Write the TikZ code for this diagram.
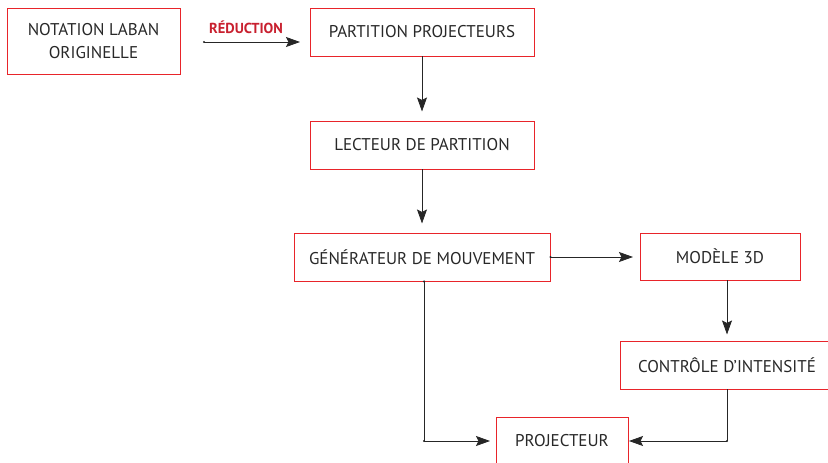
\documentclass[tikz,border=0pt]{standalone}
\usepackage{fontspec}
\setmainfont{PT Sans}
\usetikzlibrary{arrows.meta}
\definecolor{boxred}{RGB}{232,36,42}
\definecolor{labred}{RGB}{200,32,47}
\definecolor{txt}{RGB}{40,40,40}
\begin{document}
\begin{tikzpicture}[x=1pt,y=-1pt,
  box/.style={draw=boxred,line width=0.9pt,inner sep=0pt,text=txt,font=\fontsize{17}{23}\selectfont,align=center},
  conn/.style={line width=0.8pt,draw=black!85,-{Stealth[length=14pt,width=10pt,inset=2.5pt]}},
  wire/.style={line width=0.8pt,draw=black!85},
  dot/.style={circle,fill=black!85,inner sep=0pt,minimum size=2.4pt}]
\useasboundingbox (0,0) rectangle (828,463);
\clip (0,0) rectangle (828,463);
\node[box,minimum width=173pt,minimum height=66pt] (laban) at (93.5,41) {NOTATION LABAN\\ORIGINELLE};
\node[box,minimum width=224pt,minimum height=48pt] (part) at (422,32) {PARTITION PROJECTEURS};
\node[box,minimum width=224pt,minimum height=48pt] (lect) at (422,145) {LECTEUR DE PARTITION};
\node[box,minimum width=256pt,minimum height=48pt] (gen) at (422,257) {GÉNÉRATEUR DE MOUVEMENT};
\node[box,minimum width=160pt,minimum height=47pt] (mod) at (720,256.5) {MODÈLE 3D};
\node[box,minimum width=214pt,minimum height=48pt] (ctrl) at (727,365) {CONTRÔLE D’INTENSITÉ};
\node[box,minimum width=132pt,minimum height=48pt] (proj) at (562,441) {PROJECTEUR};
\coordinate (rs) at (204,42);
\coordinate (re) at (300,42);
\node[dot] at (rs) {};
\draw[conn] (rs) -- (re) node[midway,above=5pt,xshift=-6pt,font=\bfseries\fontsize{14.5}{17}\selectfont,text=labred] (red) {RÉDUCTION};
\draw[conn] (part.south) -- ++(0,55);
\draw[conn] (lect.south) -- ++(0,54);
\node[dot] at (gen.east) {};
\draw[conn] (gen.east) -- (633,257);
\draw[conn] (mod.south -| 727,0) -- ++(0,54);
\coordinate (c1) at (727,441);
\draw[wire] (ctrl.south) -- (c1);
\node[dot] at (c1) {};
\draw[conn] (c1) -- (629,441);
\coordinate (g1) at (424,441);
\draw[wire] (gen.south -| g1) -- (g1);
\node[dot] at (g1) {};
\node[dot] at (gen.south -| g1) {};
\draw[conn] (g1) -- (490,441);
\end{tikzpicture}
\end{document}
